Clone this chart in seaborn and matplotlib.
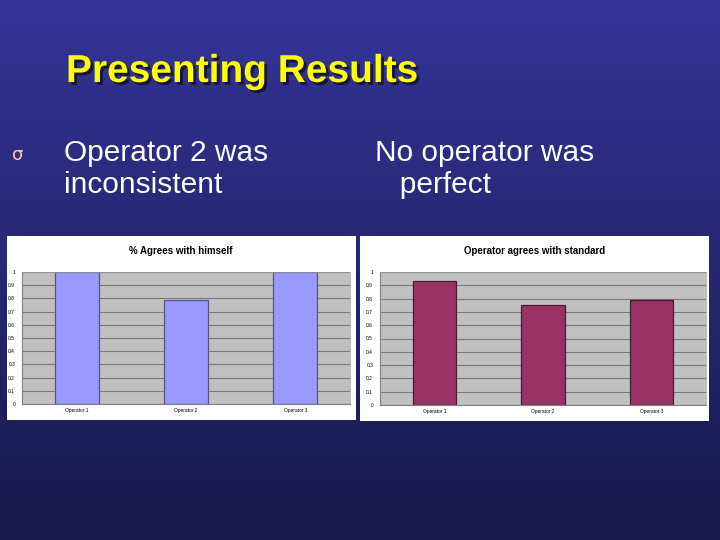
import numpy as np
import pandas as pd
import matplotlib
matplotlib.use("Agg")
import matplotlib.pyplot as plt
import matplotlib.patheffects as pe
from matplotlib.patches import Rectangle
import seaborn as sns

# ---- data ----
operators = ["Operator 1", "Operator 2", "Operator 3"]
self_agree = [1.0, 0.79, 1.0]
std_agree = [0.93, 0.75, 0.79]
y_ticks = [0, 0.1, 0.2, 0.3, 0.4, 0.5, 0.6, 0.7, 0.8, 0.9, 1]
y_tick_labels = ["0", "0.1", "0.2", "0.3", "0.4", "0.5", "0.6", "0.7", "0.8", "0.9", "1"]

slide_title = "Presenting Results"
left_text = ["Operator 2 was", "inconsistent"]
right_text = ["No operator was", "   perfect"]
chart1_title = "% Agrees with himself"
chart2_title = "Operator agrees with standard"

sns.set_style("white")
plt.rcParams["font.family"] = ["Liberation Sans", "DejaVu Sans"]

W, H = 720, 540
fig = plt.figure(figsize=(7.2, 5.4), dpi=100)

# background gradient + slide layer (pixel coordinates)
bg = fig.add_axes([0, 0, 1, 1], zorder=-2)
top = np.array([52, 52, 152]) / 255
bot = np.array([25, 25, 75]) / 255
t = np.linspace(0, 1, 256)[:, None]
grad = top[None, :] * (1 - t) + bot[None, :] * t
grad = np.repeat(grad[:, None, :], 2, axis=1)
bg.imshow(grad, extent=[0, W, H, 0], aspect="auto", interpolation="bilinear")
bg.set_xlim(0, W)
bg.set_ylim(H, 0)
bg.axis("off")

# white chart panels
bg.add_patch(Rectangle((7, 236), 349, 184, facecolor="white", edgecolor="none"))
bg.add_patch(Rectangle((360, 236), 349, 185, facecolor="white", edgecolor="none"))

# slide title with shadow
bg.text(66, 82, slide_title, color="#FFFF00", fontsize=28, fontweight="bold",
        ha="left", va="baseline",
        path_effects=[pe.withSimplePatchShadow(offset=(2, -2), shadow_rgbFace="#15153a", alpha=1.0)])

# bullet text
bg.text(12, 160, "σ", color="#FFCC99", fontsize=13, ha="left", va="baseline",
        family=["DejaVu Sans"])
bg.text(64, 161, left_text[0], color="white", fontsize=21.5, ha="left", va="baseline")
bg.text(64, 193, left_text[1], color="white", fontsize=21.5, ha="left", va="baseline")
bg.text(375, 161, right_text[0], color="white", fontsize=21.5, ha="left", va="baseline")
bg.text(375, 193, right_text[1], color="white", fontsize=21.5, ha="left", va="baseline")

# chart titles
bg.text(181, 251, chart1_title, color="black", fontsize=7, fontweight="bold",
        ha="center", va="center")
bg.text(535, 251, chart2_title, color="black", fontsize=7, fontweight="bold",
        ha="center", va="center")


def draw_chart(rect, values, color, edge):
    ax = fig.add_axes(rect, zorder=1)
    df = pd.DataFrame({"op": operators, "val": values})
    ax.set_facecolor("#C0C0C0")
    ax.set_axisbelow(True)
    ax.yaxis.grid(True, color="#7a7a7a", linewidth=0.8)
    sns.barplot(data=df, x="op", y="val", color=color, width=0.4,
                edgecolor=edge, linewidth=0.9, saturation=1, ax=ax)
    ax.set_xlim(-0.5, len(operators) - 0.5)
    ax.set_ylim(0, 1)
    ax.set_yticks(y_ticks)
    ax.set_yticklabels(y_tick_labels)
    ax.set_xlabel("")
    ax.set_ylabel("")
    ax.tick_params(axis="both", labelsize=3.5, length=2, width=0.5,
                   color="#808080", pad=3, labelcolor="black")
    ax.tick_params(axis="x", length=0)
    ax.set_xticks(np.arange(-0.5, len(operators)), minor=True)
    ax.tick_params(axis="x", which="minor", length=2, width=0.5, color="#808080")
    for side in ["left", "bottom"]:
        ax.spines[side].set_color("#808080")
        ax.spines[side].set_linewidth(0.8)
    for side in ["top", "right"]:
        ax.spines[side].set_color("#a0a0a0")
        ax.spines[side].set_linewidth(0.5)
    return ax


draw_chart([22 / W, (H - 404) / H, 328 / W, 132 / H], self_agree, "#9999FF", "#55557f")
draw_chart([380 / W, (H - 405) / H, 326 / W, 133 / H], std_agree, "#993366", "#4a1a33")

fig.savefig("out.png", dpi=100)
